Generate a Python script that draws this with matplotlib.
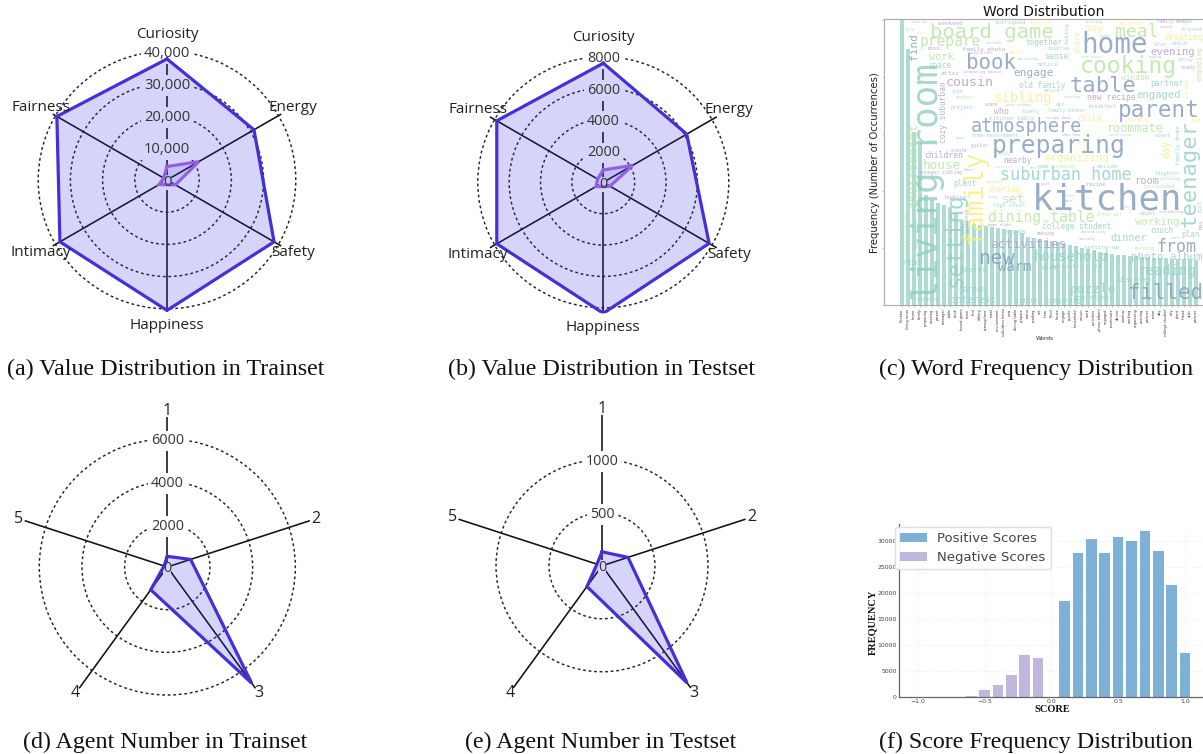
import numpy as np
import matplotlib
matplotlib.use("Agg")
import matplotlib.pyplot as plt

# ---------- data ----------
value_labels = ["Curiosity", "Energy", "Safety", "Happiness", "Intimacy", "Fairness"]
train_values_high = [37600, 31200, 38400, 40500, 38400, 39500]
train_values_low = [4200, 11400, 3000, 1500, 2800, 1200]
value_ticks_train = [0, 10000, 20000, 30000, 40000]
test_values_high = [7590, 6140, 7790, 8350, 7840, 7840]
test_values_low = [785, 2170, 490, 280, 530, 420]
value_ticks_test = [0, 2000, 4000, 6000, 8000]

agent_labels = ["1", "2", "3", "4", "5"]
agent_train = [500, 1150, 6730, 1320, 160]
agent_ticks_train = [0, 2000, 4000, 6000]
agent_test = [132, 258, 1365, 242, 50]
agent_ticks_test = [0, 500, 1000]

word_names = ["kitchen", "living room", "home", "family", "preparing", "cooking", "parent", "teenager",
              "table", "book", "board game", "room", "find", "sibling", "atmosphere", "meal", "environment",
              "suburban home", "new", "dining table", "prepare", "warm", "reading", "set", "from", "filled",
              "house", "engage", "puzzle", "household", "cousin", "work", "activities", "photo album",
              "engaged", "roommate", "dinner", "window", "working", "organizing", "evening", "partner",
              "room", "day", "college student", "city", "plant", "friend", "attic", "partner"]
word_counts = [5500, 4490, 3035, 2840, 1930, 1840, 1790, 1750, 1720, 1610, 1470, 1470, 1420, 1400, 1385,
               1370, 1350, 1330, 1315, 1300, 1260, 1190, 1175, 1160, 1140, 1120, 1105, 1090, 1050, 1030,
               1000, 980, 950, 930, 910, 895, 880, 875, 865, 860, 850, 840, 830, 825, 820, 815, 810, 805,
               800, 790]

score_pos_x = [0.1, 0.2, 0.3, 0.4, 0.5, 0.6, 0.7, 0.8, 0.9, 1.0]
score_pos = [18400, 27700, 30400, 27600, 30800, 30000, 31800, 28000, 21400, 8400]
score_neg_x = [-0.1, -0.2, -0.3, -0.4, -0.5, -0.6, -0.7, -0.8]
score_neg = [7500, 8000, 4200, 2300, 1400, 150, 80, 30]

captions = ["(a) Value Distribution in Trainset", "(b) Value Distribution in Testset",
            "(c) Word Frequency Distribution", "(d) Agent Number in Trainset",
            "(e) Agent Number in Testset", "(f) Score Frequency Distribution"]

# word cloud: text, centre x, centre y, length along the word, colour key, vertical
cloud = [
 ("kitchen",740,600,450,"b",0),("preparing",595,437,400,"b",0),("home",765,135,200,"b",0),
 ("cooking",805,200,290,"g",0),("table",730,258,200,"b",0),("parent",895,330,245,"b",0),
 ("atmosphere",500,380,335,"b",0),("board game",395,97,370,"g",0),("book",392,188,150,"b",0),
 ("meal",830,97,130,"g",0),("prepare",272,125,185,"g",0),("suburban home",618,525,395,"t",0),
 ("dining table",545,652,320,"g",0),("living room",205,545,715,"t",1),("family",345,590,285,"y",1),
 ("setting",285,720,285,"t",1),("environment",160,495,255,"g",1),("teenager",990,520,320,"t",1),
 ("new",410,775,110,"b",0),("household",635,772,225,"t",0),("activities",505,732,230,"p",0),
 ("warm",465,800,100,"b",0),("filled",915,880,225,"b",0),("puzzle",700,870,140,"t",0),
 ("reading",920,812,175,"t",0),("from",950,740,120,"b",0),("photo album",920,772,215,"t",0),
 ("dinner",805,715,110,"t",0),("working",893,667,135,"g",0),("college student",650,680,210,"t",0),
 ("room",860,542,75,"p",0),("recipe",708,553,58,"p",0),("organizing",650,475,195,"y",0),
 ("sharing",430,568,100,"y",0),("set",460,598,70,"g",0),("house",245,497,115,"g",0),
 ("children",252,465,115,"p",0),("plant",313,550,70,"t",0),("nearby",473,482,85,"p",0),
 ("cousin",330,248,145,"p",0),("engage",520,220,120,"b",0),("sibling",490,295,175,"y",0),
 ("work",245,170,75,"g",0),("find",163,140,80,"b",1),("space",240,197,70,"t",0),("attic",270,220,58,"p",0),
 ("together",552,128,110,"t",0),("sense",588,170,72,"t",0),("notice",562,194,65,"t",0),
 ("old family",545,255,140,"t",0),("new recipe",755,292,145,"p",0),("engaged",895,285,135,"t",0),
 ("partner",920,252,100,"t",0),("window",825,232,85,"g",0),("evening",937,155,135,"p",0),
 ("creating",972,112,115,"y",0),("friend",995,88,65,"t",0),("cozy",700,85,58,"y",0),
 ("share",652,125,70,"y",1),("baking",622,100,65,"t",1),("roommate",827,385,170,"g",0),
 ("child",687,355,72,"y",0),("day",920,445,55,"y",1),("family home",955,435,120,"t",1),
 ("cozy suburban",252,337,185,"p",1),("who",425,335,45,"p",0),("lively",513,335,55,"t",0),
 ("family dinner",620,331,115,"t",0),("breakfast",728,320,85,"t",0),("kitchen table",455,357,135,"t",0),
 ("project",305,323,70,"t",0),("mother",312,292,52,"g",0),("join",292,273,35,"t",0),("air",602,313,28,"t",0),
 ("scene",395,315,42,"p",0),("open window",475,316,75,"t",0),("sitting",637,290,50,"t",0),
 ("secure",575,271,50,"t",0),("guitar",360,437,55,"p",0),("home environment",405,407,140,"t",0),
 ("about",862,642,50,"t",0),("couch",905,692,70,"t",0),("plan",990,704,55,"t",0),("morning",855,745,60,"g",0),
 ("setting up",725,741,105,"t",0),("making",558,699,55,"p",0),("game night",420,676,70,"p",0),
 ("aroma",465,697,65,"t",0),("read",157,788,55,"t",0),("shared",340,810,80,"t",0),("garden",338,868,85,"t",0),
 ("interest",340,900,140,"t",0),("ensuring",205,900,70,"t",0),("kitchen preparing",565,903,200,"t",0),
 ("ingredient",700,895,120,"t",0),("discover",825,840,105,"t",0),("play",570,802,50,"t",0),
 ("activity",618,798,85,"t",0),("old",712,800,28,"t",0),("looking",285,592,70,"p",0),
 ("high school",450,618,95,"t",0),("fresh air",748,643,75,"g",0),("assembling",700,695,75,"t",0),
 ("younger sibling",243,518,130,"p",0),("organize",432,500,60,"g",0),("game",552,500,35,"t",0),
 ("gardening",610,500,75,"g",0),("decide",742,499,65,"t",0),("laughter",920,520,75,"t",0),
 ("surrounded",895,558,100,"g",0),("just",1020,620,40,"t",1),("has",1022,672,30,"p",1),
 ("weekend",270,70,75,"p",0),("intrigued",450,67,95,"t",0),("studying",540,67,75,"y",0),
 ("neighbor",815,69,85,"y",0),("family member",945,66,110,"p",0),("inviting",700,66,55,"t",0),
 ("music",225,146,45,"p",0),("family photo",370,147,130,"p",0),("small",468,158,45,"y",0),
 ("observe",595,147,65,"t",0),("which",958,130,45,"t",0),("after",903,134,42,"t",0),("over",735,108,35,"t",0),
 ("enjoy",980,180,45,"t",0),("ready",982,203,45,"p",0),("engaging",1018,190,105,"g",1),
 ("warmth",982,265,60,"y",1),("open",1005,362,35,"y",0),("scent",907,407,50,"t",0),
 ("preparing dinner",370,216,115,"p",0),("cookbook",320,660,80,"p",1),("fill",150,91,30,"t",0),
 ("lounging",835,360,70,"y",0),("planning",674,420,60,"y",1),("sunlit kitchen",780,406,70,"t",0),
 ("who has",635,405,55,"p",0),("sets up",178,65,48,"p",0),("start",185,100,35,"y",0),("outside",402,130,50,"t",0),
 ("family kitchen",362,160,75,"p",0),("discussing",505,176,65,"t",0),("school project",695,172,65,"t",0),
 ("enjoying",887,172,40,"p",0),("focused",920,82,40,"p",0),("recipe book",595,355,75,"p",0),("busy",300,413,28,"t",0),
 ("task",215,423,28,"t",0),("ensure",432,462,40,"t",0),("backyard",405,546,50,"g",0),("bring",398,591,30,"t",0),
 ("where",328,510,30,"p",0),("she",520,504,20,"t",0),("quiet",555,551,28,"p",0),("father",630,587,35,"t",0),
 ("make",628,603,25,"t",0),("lits",800,620,20,"t",0),("considering",933,637,75,"p",0),("wellbeing",930,537,60,"t",0),
 ("create",295,451,50,"p",0),("sofa",945,715,28,"t",0),("variety",680,717,50,"p",0),("he",557,664,20,"g",0),
 ("cozy living",137,700,130,"g",1),("experience",170,700,90,"t",1),
]
cloud_colors = {"b": "#8099ba", "t": "#8fcfbf", "g": "#b4e5a0", "y": "#f3ee80", "p": "#ae9ac6"}

PURPLE = "#4430d4"
FILL = "#3a2be8"
W, H = 1203, 754
fig = plt.figure(figsize=(W / 100, H / 100), dpi=100, facecolor="white")


def px_axes(left, top, right, bottom, **kw):
    return fig.add_axes([left / W, 1 - bottom / H, (right - left) / W, (bottom - top) / H], **kw)


def radar(cx, cy, radius, rmax, labels, ticks, series, fmt, lab_r, lab_fs, tick_fs):
    ax = px_axes(cx - radius, cy - radius, cx + radius, cy + radius, projection="polar")
    ax.set_theta_zero_location("N")
    ax.set_theta_direction(-1)
    ax.set_ylim(0, rmax)
    ax.spines["polar"].set_visible(False)
    ax.patch.set_alpha(0)
    th = np.linspace(0, 2 * np.pi, len(labels), endpoint=False)
    ax.set_xticks(th)
    ax.set_xticklabels([])
    ax.set_yticks(ticks)
    ax.set_yticklabels([])
    ax.set_axisbelow(True)
    ax.grid(axis="x", color="#111111", lw=1.15, ls="-")
    ax.grid(axis="y", color="#222222", lw=1.05, ls=(0, (1.9, 1.9)))
    ax.tick_params(length=0)
    for v in ticks:
        # white patch behind the tick label: cuts the rings and spokes, stays under the fill
        ax.text(0, v, fmt(v), ha="center", va="center_baseline", fontsize=tick_fs, family="Open Sans",
                color="white", zorder=2,
                bbox=dict(boxstyle="square,pad=" + ("0.0" if v == 0 else "0.2"), fc="white", ec="none"))
    for values, col, fa in series:
        tt = np.r_[th, th[0]]
        vv = np.r_[values, values[0]]
        ax.fill(tt, vv, color=FILL, alpha=fa, lw=0, zorder=3)
        ax.plot(tt, vv, color=col, lw=2.3, zorder=4, solid_joinstyle="miter")
    for t, lab in zip(th, labels):
        ax.text(t, rmax * lab_r, lab, ha="center", va="center", fontsize=lab_fs, family="Open Sans",
                color="#222222", clip_on=False, zorder=8)
    for v in ticks:
        ax.text(0, v, fmt(v), ha="center", va="center_baseline", fontsize=tick_fs, family="Open Sans",
                color="#333333", zorder=7)
    return ax


comma = lambda v: f"{v:,}"
plain = lambda v: f"{v}"
radar(167, 180, 132, 41000, value_labels, value_ticks_train,
      [(train_values_high, PURPLE, 0.2), (train_values_low, "#9460e2", 0.12)], comma, 1.105, 11, 10.6)
radar(603.3, 182.3, 131, 8350, value_labels, value_ticks_test,
      [(test_values_high, PURPLE, 0.2), (test_values_low, "#9460e2", 0.12)], plain, 1.105, 11, 10.4)
radar(167.3, 567, 150, 7030, agent_labels, agent_ticks_train, [(agent_train, PURPLE, 0.2)],
      plain, 1.04, 11.5, 10.4)
radar(602, 565.8, 151, 1425, agent_labels, agent_ticks_test, [(agent_test, PURPLE, 0.2)],
      plain, 1.04, 11.5, 10.4)

# ---------- panel c ----------
axc = px_axes(884, 19, 1203, 305)
idx = np.arange(len(word_counts))
axc.bar(idx, word_counts, width=0.8, color="#aedcd5")
axc.set_xlim(-3, 50.17)
axc.set_ylim(0, 5020)
axc.set_yticks([0, 1000, 2000, 3000, 4000, 5000])
axc.set_yticklabels([])
axc.set_xticks(idx)
axc.set_xticklabels(word_names, rotation=90, fontsize=2.5, color="#333333")
axc.tick_params(length=1.5, width=0.4, color="#999999", pad=1)
axc.spines["right"].set_visible(False)
for s in ("left", "bottom", "top"):
    axc.spines[s].set_color("#aaaaaa")
    axc.spines[s].set_linewidth(0.8)
fig.text(1044 / W, 1 - 12 / H, "Word Distribution", ha="center", va="center", fontsize=10, color="#111111")
fig.text(875 / W, 1 - 163 / H, "Frequency (Number of Occurrences)", rotation=90, ha="center", va="center",
         fontsize=7.2, color="#222222")
fig.text(1045 / W, 1 - 338 / H, "Words", ha="center", va="center", fontsize=4.2, color="#333333")
for word, zx, zy, span, key, vert in cloud:
    fs = span / 3 / len(word) / 0.602 * 0.72
    fig.text((860 + zx / 3) / W, 1 - (zy / 3) / H, word, family="DejaVu Sans Mono", fontsize=fs,
             color=cloud_colors[key], alpha=0.8, rotation=90 if vert else 0, ha="center", va="center", zorder=5)

# ---------- panel f ----------
axf = px_axes(899, 524, 1203, 697)
axf.bar(score_pos_x, score_pos, width=0.08, color="#7fb0d5", label="Positive Scores")
axf.bar(score_neg_x, score_neg, width=0.08, color="#c0b6de", label="Negative Scores")
axf.set_xlim(-1.14, 1.135)
axf.set_ylim(0, 33200)
axf.set_xticks([-1.0, -0.5, 0.0, 0.5, 1.0])
axf.set_yticks(range(0, 30001, 5000))
axf.tick_params(labelsize=4.4, length=0, pad=1.5, colors="#444444")
axf.grid(color="#e6e6e6", lw=0.5, ls=":")
axf.set_axisbelow(True)
for s in ("top", "right"):
    axf.spines[s].set_visible(False)
for s in ("left", "bottom"):
    axf.spines[s].set_color("#666666")
    axf.spines[s].set_linewidth(0.9)
leg = axf.legend(loc="upper left", bbox_to_anchor=((895 - 899) / 304, 1 + (524 - 527) / 173), fontsize=9.5,
                 frameon=True, framealpha=0.92, edgecolor="#dddddd", borderaxespad=0, labelcolor="#444444",
                 handlelength=2.0, labelspacing=0.45)
fig.text(1052 / W, 1 - 709 / H, "SCORE", family="Liberation Serif", weight="bold", fontsize=7.5,
         ha="center", va="center", color="#111111")
fig.text(873 / W, 1 - 622 / H, "FREQUENCY", family="Liberation Serif", weight="bold", fontsize=7.5,
         rotation=90, ha="center", va="center", color="#111111")

# ---------- captions ----------
cap_pos = [(166, 369), (602, 369), (1036, 369), (165, 742), (601, 742), (1036, 742)]
for txt, (x, y) in zip(captions, cap_pos):
    fig.text(x / W, 1 - y / H, txt, family="Liberation Serif", fontsize=17.3, ha="center", va="center",
             color="#111111")

fig.savefig("out.png", dpi=100)
